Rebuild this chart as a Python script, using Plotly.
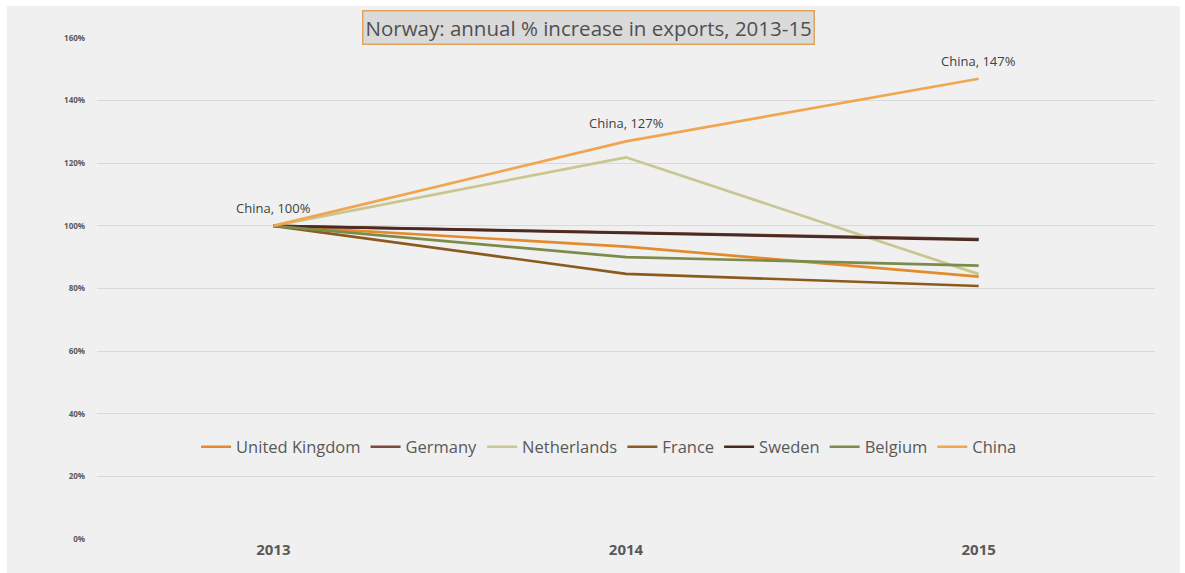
import plotly.graph_objects as go

years = ["2013", "2014", "2015"]
series_names = ["United Kingdom", "Germany", "Netherlands", "France", "Sweden", "Belgium", "China"]
uk = [100, 93.4, 83.8]
germany = [100, 97.9, 95.8]
netherlands = [100, 121.9, 84.6]
france = [100, 84.7, 80.8]
sweden = [100, 97.7, 95.5]
belgium = [100, 90.0, 87.3]
china = [100, 127, 147]
series_values = [uk, germany, netherlands, france, sweden, belgium, china]
colors = ["#E38B2C", "#7B4A3A", "#C9C68F", "#8B5A1E", "#4A2A22", "#7D8B4A", "#F0A650"]
y_ticks = [0, 20, 40, 60, 80, 100, 120, 140, 160]
y_tick_labels = ["0%", "20%", "40%", "60%", "80%", "100%", "120%", "140%", "160%"]
title_text = "Norway: annual % increase in exports, 2013-15"

fig = go.Figure()
for name, vals, col in zip(series_names, series_values, colors):
    fig.add_trace(go.Scatter(x=years, y=vals, mode="lines", name=name,
                             line=dict(color=col, width=2.7)))

for i, v in enumerate(china):
    fig.add_annotation(x=i, y=v, text=f"China, {v:.0f}%", showarrow=False,
                       yshift=18, font=dict(family="Open Sans", size=13, color="#404040"))

fig.add_annotation(xref="paper", yref="paper", x=0.465, y=1.02, text=title_text,
                   showarrow=False, yanchor="middle",
                   font=dict(family="Open Sans", size=20.5, color="#505050"),
                   bgcolor="#DADADA", bordercolor="#E0A45E", borderwidth=1.5, borderpad=2)

fig.add_shape(type="rect", xref="paper", yref="paper", x0=-0.0851, x1=1.0236,
              y0=-0.07, y1=1.0639, fillcolor="#F0F0F0", line=dict(width=0), layer="below")

fig.update_layout(
    width=1185, height=573,
    margin=dict(l=97, r=30, t=38, b=34),
    paper_bgcolor="white", plot_bgcolor="#F0F0F0",
    showlegend=True,
    legend=dict(orientation="h", x=0.484, y=0.1836, xanchor="center", yanchor="middle",
                bgcolor="rgba(0,0,0,0)", itemwidth=30,
                font=dict(family="Open Sans", size=16.5, color="#595959")),
    xaxis=dict(range=[-0.5, 2.5], type="category", showgrid=False, zeroline=False,
               showline=False, ticks="",
               tickfont=dict(family="Open Sans", size=15, color="#595959", weight="bold")),
    yaxis=dict(range=[0, 160], tickvals=y_ticks, ticktext=y_tick_labels,
               showgrid=True, gridcolor="#D9D9D9", gridwidth=1, zeroline=False,
               showline=False, ticks="", ticklabelstandoff=11,
               tickfont=dict(family="Open Sans", size=8, color="#595959", weight="bold")),
)

fig.write_html("out.html")
